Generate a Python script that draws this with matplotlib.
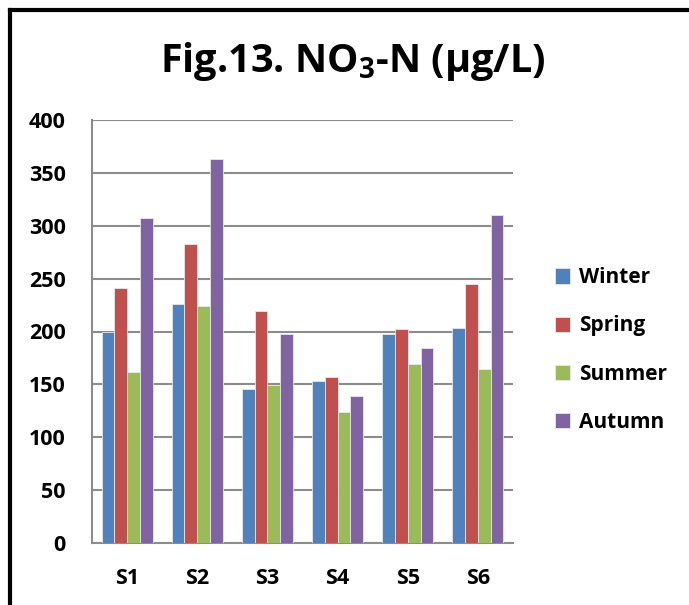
import matplotlib
matplotlib.use("Agg")
import matplotlib.pyplot as plt
import numpy as np
from matplotlib.lines import Line2D

# данные
sites = ["S1", "S2", "S3", "S4", "S5", "S6"]
seasons = ["Winter", "Spring", "Summer", "Autumn"]
winter = [200, 226, 146, 153, 198, 203]
spring = [241, 283, 219, 157, 202, 245]
summer = [162, 224, 149, 124, 169, 165]
autumn = [307, 363, 198, 139, 184, 310]
yticks = [0, 50, 100, 150, 200, 250, 300, 350, 400]

colors = ["#4F81BD", "#C0504D", "#9BBB59", "#8064A2"]

FONT = "Open Sans"
plt.rcParams["font.family"] = [FONT, "DejaVu Sans"]
plt.rcParams["font.weight"] = "bold"
plt.rcParams["mathtext.fontset"] = "custom"
plt.rcParams["mathtext.bf"] = FONT + ":bold"
plt.rcParams["mathtext.rm"] = FONT + ":bold"

W, H = 689, 605
fig = plt.figure(figsize=(W / 100, H / 100), dpi=100)
# оси в пикселях: x 92..513, y 120..543
ax = fig.add_axes([92 / W, 1 - 543 / H, (513 - 92) / W, (543 - 120) / H])

x = np.arange(len(sites))
bw = 1 / 5.5
series = [winter, spring, summer, autumn]
for i, (vals, name, c) in enumerate(zip(series, seasons, colors)):
    ax.bar(x + (i - 1.5) * bw, vals, width=bw, color=c, edgecolor="#e8e8e8",
           linewidth=0.6, label=name, zorder=3)

ax.set_xlim(-0.5, len(sites) - 0.5)
ax.set_ylim(0, 400)
ax.set_yticks(yticks)
ax.set_xticks(x)
ax.set_xticklabels(sites)
ax.yaxis.grid(True, color="#8c8c8c", linewidth=1.5, zorder=0)
for s in ("top", "right"):
    ax.spines[s].set_visible(False)
for s in ("left", "bottom"):
    ax.spines[s].set_color("#8c8c8c")
    ax.spines[s].set_linewidth(1.5)
ax.tick_params(axis="both", length=0, labelsize=15.5)
ax.tick_params(axis="y", pad=19)
ax.tick_params(axis="x", pad=18)
for lab in ax.get_xticklabels() + ax.get_yticklabels():
    lab.set_fontweight("bold")

fig.text(353 / W, 1 - 72 / H, r"Fig.13. NO$_\mathbf{3}$-N (µg/L)",
         ha="center", va="baseline", fontsize=28.5, fontweight="bold")

leg = fig.legend(loc="center left", bbox_to_anchor=(536 / W, 1 - 350 / H),
                 frameon=False, fontsize=15, handlelength=0.75, handleheight=0.75,
                 handletextpad=0.4, labelspacing=1.3)
for t in leg.get_texts():
    t.set_fontweight("bold")

# рамка слева и сверху
fig.add_artist(Line2D([10 / W, 10 / W], [0, 1 - 10 / H], color="black", linewidth=3))
fig.add_artist(Line2D([10 / W, 1], [1 - 10 / H, 1 - 10 / H], color="black", linewidth=3))

fig.savefig("out.png", dpi=100)
